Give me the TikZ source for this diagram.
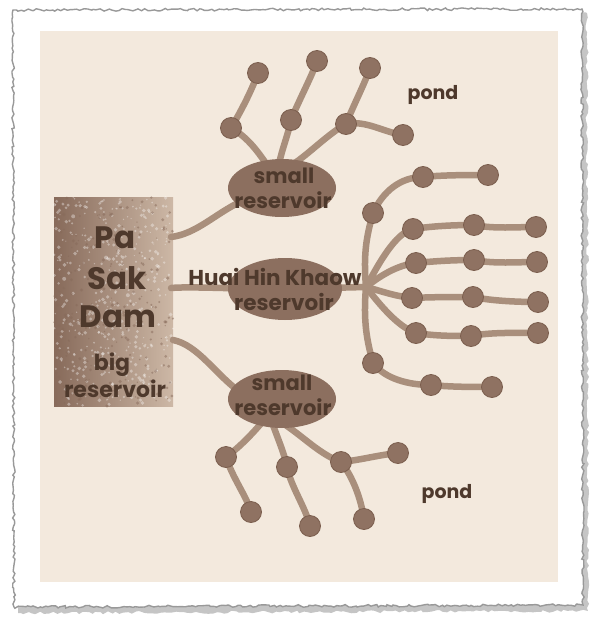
\documentclass[tikz,border=0pt]{standalone}
\usepackage{fontspec}
\setmainfont{Poppins}
\usetikzlibrary{shapes.geometric,decorations.pathmorphing,calc}
\definecolor{cream}{HTML}{F3E9DD}
\definecolor{nodefill}{HTML}{8F7262}
\definecolor{noderim}{HTML}{7B5E4E}
\definecolor{lnc}{HTML}{A98F7C}
\definecolor{ellfill}{HTML}{8C6F5F}
\definecolor{txtdark}{HTML}{4E392C}
\definecolor{boxdark}{HTML}{876A5A}
\definecolor{boxlight}{HTML}{CDB8A6}
\pgfdeclarelayer{bgzero}
\pgfdeclarelayer{bgone}
\pgfsetlayers{bgzero,bgone,main}
\begin{document}
\begin{tikzpicture}[x=1pt,y=-1pt,
  pondpt/.style={circle,fill=nodefill,draw=noderim,line width=0.8pt,minimum size=21pt,inner sep=0pt},
  resv/.style={ellipse,fill=ellfill,inner sep=0pt},
  ln/.style={draw=lnc,line width=6.5pt,line cap=round},
  lbl/.style={text=txtdark,inner sep=0pt,font=\bfseries},
  ptxt/.style={text=txtdark,inner sep=0pt,font=\fontsize{19}{19}\selectfont\bfseries}
]
\useasboundingbox (0,0) rectangle (589,621);
% ---------- frame ----------
\begin{pgfonlayer}{bgzero}
\fill[white] (0,0) rectangle (589,621);
\pgfmathsetseed{12}
\fill[black!50,opacity=.45,decorate,decoration={random steps,segment length=4pt,amplitude=1.5pt}]
  (17,15) -- (587,13) -- (588,611) -- (18,613) -- cycle;
\pgfmathsetseed{5}
\filldraw[fill=white,draw=black!40,line width=1.4pt,decorate,decoration={random steps,segment length=3pt,amplitude=1.3pt}]
  (13,10) -- (582,9) -- (583,605) -- (14,607) -- cycle;
\fill[cream] (40,31) rectangle (558,582);
% big reservoir box
\shade[left color=boxdark,right color=boxlight] (54,197) rectangle (173,406);
\pgfmathsetseed{3}
\foreach \i in {1,...,450}{
  \pgfmathsetmacro{\rx}{54+119*rnd}
  \pgfmathsetmacro{\ry}{197+209*rnd}
  \pgfmathsetmacro{\rr}{0.6+1.4*rnd}
  \fill[white,opacity=.35] (\rx,\ry) circle (\rr);
}
\foreach \i in {1,...,220}{
  \pgfmathsetmacro{\rx}{54+119*rnd}
  \pgfmathsetmacro{\ry}{197+209*rnd}
  \pgfmathsetmacro{\rr}{0.6+1.2*rnd}
  \fill[boxdark,opacity=.5] (\rx,\ry) circle (\rr);
}
\end{pgfonlayer}
% ---------- nodes ----------
\node[inner sep=0pt,minimum width=119pt,minimum height=209pt] (dam) at (113.5,301.5) {};
\node[lbl,font=\fontsize{31}{31}\selectfont\bfseries] (pa) at (115,238) {Pa};
\node[lbl,font=\fontsize{31}{31}\selectfont\bfseries] (sak) at (117,278) {Sak};
\node[lbl,font=\fontsize{31}{31}\selectfont\bfseries] (damt) at (118,317) {Dam};
\node[lbl,font=\fontsize{22}{22}\selectfont\bfseries] (big) at (112,365) {big};
\node[lbl,font=\fontsize{22}{22}\selectfont\bfseries] (bigr) at (115,389) {reservoir};

\node[resv,minimum width=108pt,minimum height=58pt] (s1) at (282,188) {};
\node[lbl,font=\fontsize{21}{21}\selectfont\bfseries] at (284,176) {small};
\node[lbl,font=\fontsize{21}{21}\selectfont\bfseries] at (283,200) {reservoir};

\node[resv,minimum width=114pt,minimum height=62pt] (hh) at (285,289) {};
\node[lbl,font=\fontsize{21.5}{21.5}\selectfont\bfseries] at (275,277) {Huai Hin Khaow};
\node[lbl,font=\fontsize{21.5}{21.5}\selectfont\bfseries] at (284,302) {reservoir};

\node[resv,minimum width=108pt,minimum height=58pt] (s3) at (282,399) {};
\node[lbl,font=\fontsize{21}{21}\selectfont\bfseries] at (282,383) {small};
\node[lbl,font=\fontsize{21}{21}\selectfont\bfseries] at (283,407) {reservoir};

\node[ptxt] (pond1) at (433,95) {pond};
\node[ptxt] (pond2) at (447,494) {pond};

% top ponds
\node[pondpt] (a1) at (258,73) {};
\node[pondpt] (a2) at (231,128) {};
\node[pondpt] (b1) at (317,61) {};
\node[pondpt] (b2) at (291,120) {};
\node[pondpt] (c1) at (370,68) {};
\node[pondpt] (c2) at (346,124) {};
\node[pondpt] (c3) at (403,135) {};
% right ponds
\node[pondpt] (d1) at (373,213) {};
\node[pondpt] (d2) at (423,177) {};
\node[pondpt] (d3) at (488,175) {};
\node[pondpt] (r1a) at (413,229) {};
\node[pondpt] (r1b) at (474,225) {};
\node[pondpt] (r1c) at (536,227) {};
\node[pondpt] (r2a) at (416,263) {};
\node[pondpt] (r2b) at (474,260) {};
\node[pondpt] (r2c) at (537,262) {};
\node[pondpt] (r3a) at (412,298) {};
\node[pondpt] (r3b) at (473,297) {};
\node[pondpt] (r3c) at (538,302) {};
\node[pondpt] (r4a) at (416,333) {};
\node[pondpt] (r4b) at (471,336) {};
\node[pondpt] (r4c) at (538,333) {};
\node[pondpt] (e1) at (373,363) {};
\node[pondpt] (e2) at (431,385) {};
\node[pondpt] (e3) at (492,387) {};
% bottom ponds
\node[pondpt] (f1) at (226,457) {};
\node[pondpt] (f2) at (251,512) {};
\node[pondpt] (g1) at (287,467) {};
\node[pondpt] (g2) at (310,526) {};
\node[pondpt] (h1) at (341,462) {};
\node[pondpt] (h2) at (398,453) {};
\node[pondpt] (h3) at (364,519) {};

% ---------- connector end points ----------
\coordinate (dt) at (171,237);
\coordinate (dm) at (171,288);
\coordinate (db) at (173,340);
\coordinate (s1w) at (240,202);
\coordinate (s3w) at (240,392);
\coordinate (s1a) at (267,165);
\coordinate (s1b) at (279,164);
\coordinate (s1c) at (292,165);
\coordinate (s3a) at (264,420);
\coordinate (s3b) at (272,422);
\coordinate (s3c) at (281,422);
\coordinate (hub) at (366,287);

% ---------- connectors ----------
\begin{pgfonlayer}{bgone}
\draw[ln] (dt) .. controls +(25,-3) and +(-25,12) .. (s1w);
\draw[ln] (dm) .. controls +(20,-2) and +(-20,1) .. (hh.center);
\draw[ln] (db) .. controls +(25,5) and +(-25,-18) .. (s3w);
% top
\draw[ln] (s1a) .. controls +(-10,-15) and +(15,8) .. (a2.center);
\draw[ln] (a2.center) .. controls +(12,-20) and +(-5,14) .. (a1.center);
\draw[ln] (s1b) .. controls +(3,-15) and +(-3,15) .. (b2.center);
\draw[ln] (b2.center) .. controls +(8,-20) and +(-5,15) .. (b1.center);
\draw[ln] (s1c) .. controls +(18,-12) and +(-18,10) .. (c2.center);
\draw[ln] (c2.center) .. controls +(8,-20) and +(-5,15) .. (c1.center);
\draw[ln] (c2.center) .. controls +(20,-4) and +(-20,-3) .. (c3.center);
% right
\draw[ln] (hh.center) -- (hub);
\draw[ln] (hub) .. controls +(-3,-35) and +(-6,22) .. (d1.center);
\draw[ln] (d1.center) .. controls +(10,-22) and +(-22,0) .. (d2.center);
\draw[ln] (d2.center) .. controls +(20,-2) and +(-20,0) .. (d3.center);
\draw[ln] (hub) .. controls +(12,-22) and +(-18,4) .. (r1a.center);
\draw[ln] (r1a.center) .. controls +(20,-3) and +(-20,0) .. (r1b.center);
\draw[ln] (r1b.center) .. controls +(20,4) and +(-20,0) .. (r1c.center);
\draw[ln] (hub) .. controls +(15,-12) and +(-18,2) .. (r2a.center);
\draw[ln] (r2a.center) .. controls +(20,-2) and +(-20,0) .. (r2b.center);
\draw[ln] (r2b.center) .. controls +(20,4) and +(-20,0) .. (r2c.center);
\draw[ln] (hub) .. controls +(15,4) and +(-18,-2) .. (r3a.center);
\draw[ln] (r3a.center) .. controls +(20,-1) and +(-20,0) .. (r3b.center);
\draw[ln] (r3b.center) .. controls +(20,4) and +(-20,0) .. (r3c.center);
\draw[ln] (hub) .. controls +(14,18) and +(-18,-6) .. (r4a.center);
\draw[ln] (r4a.center) .. controls +(20,3) and +(-20,0) .. (r4b.center);
\draw[ln] (r4b.center) .. controls +(20,-4) and +(-20,0) .. (r4c.center);
\draw[ln] (hub) .. controls +(-3,35) and +(-6,-22) .. (e1.center);
\draw[ln] (e1.center) .. controls +(12,16) and +(-22,0) .. (e2.center);
\draw[ln] (e2.center) .. controls +(20,2) and +(-20,0) .. (e3.center);
% bottom
\draw[ln] (s3a) .. controls +(-10,12) and +(14,-10) .. (f1.center);
\draw[ln] (f1.center) .. controls +(6,20) and +(-4,-15) .. (f2.center);
\draw[ln] (s3b) .. controls +(5,15) and +(-3,-15) .. (g1.center);
\draw[ln] (g1.center) .. controls +(4,20) and +(-5,-20) .. (g2.center);
\draw[ln] (s3c) .. controls +(22,14) and +(-22,-8) .. (h1.center);
\draw[ln] (h1.center) .. controls +(20,-2) and +(-20,2) .. (h2.center);
\draw[ln] (h1.center) .. controls +(12,15) and +(-3,-20) .. (h3.center);
\end{pgfonlayer}
\end{tikzpicture}
\end{document}
